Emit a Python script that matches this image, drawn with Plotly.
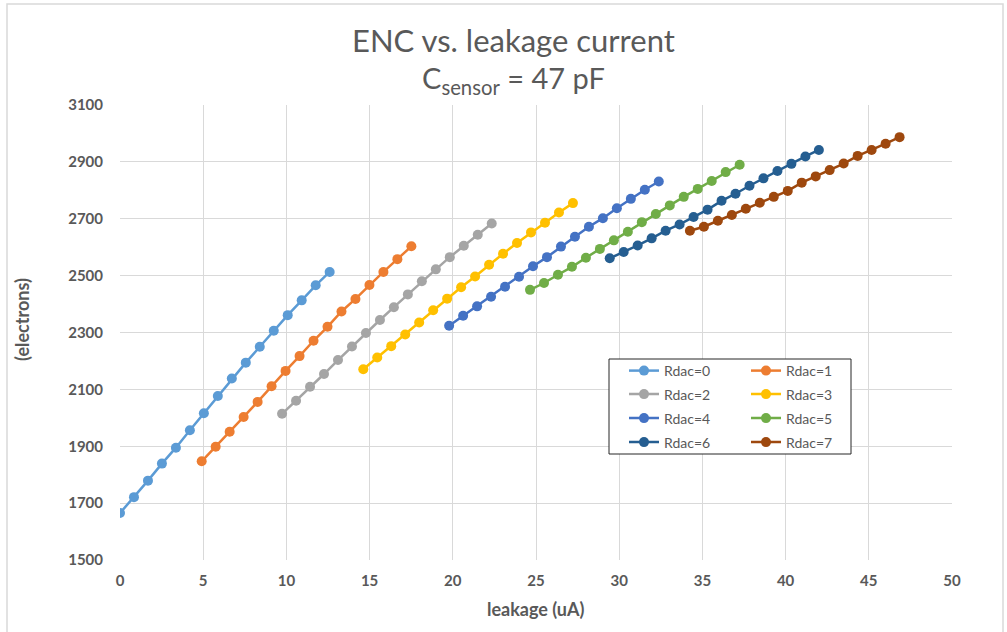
import plotly.graph_objects as go

# Leakage current (uA) for each Rdac setting
leak_r0 = [0.00, 0.84, 1.68, 2.52, 3.36, 4.20, 5.04, 5.88, 6.72, 7.56, 8.40, 9.24, 10.08, 10.92, 11.76, 12.60]
leak_r1 = [4.91, 5.75, 6.59, 7.43, 8.27, 9.11, 9.95, 10.79, 11.63, 12.47, 13.31, 14.15, 14.99, 15.83, 16.67, 17.51]
leak_r2 = [9.74, 10.58, 11.42, 12.26, 13.10, 13.94, 14.78, 15.62, 16.46, 17.30, 18.14, 18.98, 19.82, 20.66, 21.50, 22.34]
leak_r3 = [14.62, 15.46, 16.30, 17.14, 17.98, 18.82, 19.66, 20.50, 21.34, 22.18, 23.02, 23.86, 24.70, 25.54, 26.38, 27.22]
leak_r4 = [19.78, 20.62, 21.46, 22.30, 23.14, 23.98, 24.82, 25.66, 26.50, 27.34, 28.18, 29.02, 29.86, 30.70, 31.54, 32.38]
leak_r5 = [24.64, 25.48, 26.32, 27.16, 28.00, 28.84, 29.68, 30.52, 31.36, 32.20, 33.04, 33.88, 34.72, 35.56, 36.40, 37.24]
leak_r6 = [29.43, 30.27, 31.11, 31.95, 32.79, 33.63, 34.47, 35.31, 36.15, 36.99, 37.83, 38.67, 39.51, 40.35, 41.19, 42.00]
leak_r7 = [34.25, 35.09, 35.93, 36.77, 37.61, 38.45, 39.29, 40.13, 40.97, 41.81, 42.65, 43.49, 44.33, 45.17, 46.01, 46.85]

# ENC (electrons) for each Rdac setting
enc_r0 = [1665, 1721, 1779, 1839, 1895, 1956, 2016, 2077, 2138, 2194, 2250, 2306, 2361, 2413, 2466, 2513]
enc_r1 = [1847, 1898, 1951, 2003, 2056, 2111, 2165, 2217, 2271, 2320, 2374, 2418, 2467, 2513, 2558, 2603]
enc_r2 = [2014, 2060, 2109, 2154, 2203, 2251, 2298, 2344, 2389, 2434, 2480, 2522, 2565, 2605, 2644, 2683]
enc_r3 = [2171, 2212, 2252, 2293, 2335, 2378, 2419, 2459, 2497, 2538, 2577, 2615, 2652, 2686, 2722, 2755]
enc_r4 = [2324, 2359, 2392, 2426, 2461, 2496, 2533, 2565, 2602, 2637, 2672, 2702, 2737, 2770, 2802, 2831]
enc_r5 = [2450, 2474, 2503, 2531, 2563, 2594, 2624, 2654, 2688, 2717, 2747, 2777, 2805, 2833, 2864, 2890]
enc_r6 = [2561, 2583, 2606, 2631, 2658, 2680, 2706, 2732, 2763, 2788, 2816, 2842, 2868, 2893, 2919, 2942]
enc_r7 = [2658, 2672, 2693, 2713, 2735, 2756, 2777, 2798, 2827, 2849, 2871, 2894, 2921, 2942, 2964, 2987]

series_names = ["Rdac=0", "Rdac=1", "Rdac=2", "Rdac=3", "Rdac=4", "Rdac=5", "Rdac=6", "Rdac=7"]
leak_all = [leak_r0, leak_r1, leak_r2, leak_r3, leak_r4, leak_r5, leak_r6, leak_r7]
enc_all = [enc_r0, enc_r1, enc_r2, enc_r3, enc_r4, enc_r5, enc_r6, enc_r7]
colors = ["#5B9BD5", "#ED7D31", "#A5A5A5", "#FFC000", "#4472C4", "#70AD47", "#255E91", "#9E480E"]

x_ticks = [0, 5, 10, 15, 20, 25, 30, 35, 40, 45, 50]
y_ticks = [1500, 1700, 1900, 2100, 2300, 2500, 2700, 2900, 3100]

FONT = "Lato"
GRAY = "#595959"
W, H = 1007, 632
ML, MR, MT, MB = 120, 55, 105, 72
PW, PH = W - ML - MR, H - MT - MB


def px_x(p):
    return (p - ML) / PW


def px_y(p):
    return (H - MB - p) / PH


fig = go.Figure()

# legend slots: two columns, four rows
col_x = [624, 746]
row_y = [371, 394.5, 418.5, 442.5]

for i, (name, xs, ys, c) in enumerate(zip(series_names, leak_all, enc_all, colors)):
    key = "legend" if i == 0 else f"legend{i + 1}"
    fig.add_trace(go.Scatter(
        x=xs, y=ys, name=name, mode="lines+markers",
        line=dict(color=c, width=2.5),
        marker=dict(color=c, size=10),
        legend=key,
    ))
    fig.layout[key] = dict(
        x=px_x(col_x[i % 2]), y=px_y(row_y[i // 2]),
        xanchor="left", yanchor="middle",
        bgcolor="rgba(0,0,0,0)", borderwidth=0,
        font=dict(family=FONT, size=14, color=GRAY),
    )

fig.update_layout(
    width=W, height=H,
    margin=dict(l=ML, r=MR, t=MT, b=MB),
    paper_bgcolor="white", plot_bgcolor="white",
    showlegend=True,
    font=dict(family=FONT, color=GRAY),
)

fig.update_xaxes(
    range=[0, 50], tickvals=x_ticks, ticktext=[str(v) for v in x_ticks],
    showgrid=True, gridcolor="#D9D9D9", gridwidth=1, zeroline=False,
    showline=False, ticks="", ticklabelstandoff=10,
    tickfont=dict(family=FONT, size=15, color=GRAY, weight="bold"),
)
fig.update_yaxes(
    range=[1500, 3100], tickvals=y_ticks, ticktext=[str(v) for v in y_ticks],
    showgrid=True, gridcolor="#D9D9D9", gridwidth=1, zeroline=False,
    showline=False, ticks="", ticklabelstandoff=16,
    tickfont=dict(family=FONT, size=15, color=GRAY, weight="bold"),
)

# outer chart frame and legend box
fig.add_shape(type="rect", xref="paper", yref="paper",
              x0=px_x(7), x1=px_x(1003), y0=px_y(645), y1=px_y(4),
              line=dict(color="#D9D9D9", width=1.5), fillcolor="rgba(0,0,0,0)", layer="below")
fig.add_shape(type="rect", xref="paper", yref="paper",
              x0=px_x(609), x1=px_x(851), y0=px_y(454), y1=px_y(359),
              line=dict(color="#262626", width=1), fillcolor="white", layer="above")

# titles
fig.add_annotation(text="ENC vs. leakage current", xref="paper", yref="paper",
                   x=px_x(513), y=px_y(40), showarrow=False, xanchor="center", yanchor="middle",
                   font=dict(family=FONT, size=31, color=GRAY))
fig.add_annotation(text="C<sub>sensor</sub> = 47 pF", xref="paper", yref="paper",
                   x=px_x(513), y=px_y(79), showarrow=False, xanchor="center", yanchor="middle",
                   font=dict(family=FONT, size=29, color=GRAY))
fig.add_annotation(text="(electrons)", xref="paper", yref="paper",
                   x=px_x(22), y=px_y(320), showarrow=False, textangle=-90,
                   xanchor="center", yanchor="middle",
                   font=dict(family=FONT, size=18, color=GRAY, weight="bold"))
fig.add_annotation(text="leakage (uA)", xref="paper", yref="paper",
                   x=px_x(536), y=px_y(609), showarrow=False,
                   xanchor="center", yanchor="middle",
                   font=dict(family=FONT, size=18, color=GRAY, weight="bold"))

fig.write_html("out.html")
